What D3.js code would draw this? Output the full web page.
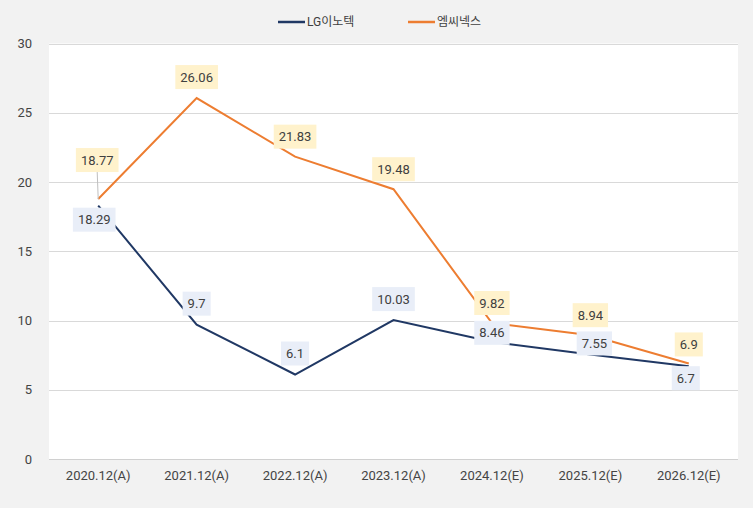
<!DOCTYPE html>
<html><head><meta charset="utf-8">
<script src="https://cdn.jsdelivr.net/npm/d3@7"></script>
<style>
body{margin:0;background:#f2f2f2;}
svg{display:block;font-family:Roboto,"Noto Sans CJK KR",sans-serif;}
</style></head><body>
<svg id="c" width="753" height="508"></svg>
<script>
const categories = ["2020.12(A)","2021.12(A)","2022.12(A)","2023.12(A)","2024.12(E)","2025.12(E)","2026.12(E)"];
const seriesNames = ["LG이노텍","엠씨넥스"];
const lgInnotek = [18.29, 9.7, 6.1, 10.03, 8.46, 7.55, 6.7];
const mcnex = [18.77, 26.06, 21.83, 19.48, 9.82, 8.94, 6.9];
const yTicks = [0,5,10,15,20,25,30];
// label offsets (styling)
const lgLabelOffset = [[-4,14],[0,-21],[0,-21],[0,-21],[0,-9],[4,-11],[-3,12]];
const mcLabelOffset = [[-1,-39],[0,-21],[0,-20],[0,-20],[0,-20],[0,-20],[0,-19]];

const svg = d3.select("#c");
const L=49, R=738, T=43.5, B=459;
svg.append("rect").attr("x",L).attr("y",T).attr("width",R-L).attr("height",B-T).attr("fill","#fff");
const x = d3.scaleBand().domain(categories).range([L,R]);
const y = d3.scaleLinear().domain([0,30]).range([B,T]);

svg.append("g").selectAll("line").data(yTicks.filter(d=>d>0)).join("line")
  .attr("x1",L).attr("x2",R).attr("y1",d=>Math.round(y(d))+0.5).attr("y2",d=>Math.round(y(d))+0.5)
  .attr("stroke","#d9d9d9").attr("stroke-width",1);
svg.append("line").attr("x1",L).attr("x2",R).attr("y1",B+0.5).attr("y2",B+0.5).attr("stroke","#d0d0d0");

const ya = svg.append("g").attr("transform",`translate(${L},0)`)
  .call(d3.axisLeft(y).tickValues(yTicks).tickSize(0).tickPadding(17));
ya.select(".domain").remove();
ya.selectAll("text").attr("fill","#444").attr("font-size",13).attr("font-family","Roboto, sans-serif");

const xa = svg.append("g").attr("transform",`translate(0,${B})`)
  .call(d3.axisBottom(x).tickSize(0).tickPadding(12));
xa.select(".domain").remove();
xa.selectAll("text").attr("fill","#444").attr("font-size",13).attr("font-family","Roboto, sans-serif");

const cx = d => x(d)+x.bandwidth()/2;
const line = d3.line().x((d,i)=>cx(categories[i])).y(d=>y(d));
svg.append("path").datum(mcnex).attr("d",line).attr("fill","none").attr("stroke","#ed7d31").attr("stroke-width",2);
svg.append("path").datum(lgInnotek).attr("d",line).attr("fill","none").attr("stroke","#203864").attr("stroke-width",2);

function labels(data, offs, bg){
  const g = svg.append("g");
  data.forEach((v,i)=>{
    const px=cx(categories[i]), py=y(v);
    const lx=px+offs[i][0], ly=py+offs[i][1];
    if(Math.abs(offs[i][1])>30){
      g.append("line").attr("x1",lx).attr("y1",ly+12).attr("x2",px).attr("y2",py).attr("stroke","#bfbfbf").attr("stroke-width",1);
    }
    const r = g.append("rect").attr("fill",bg);
    const t = g.append("text").attr("x",lx).attr("y",ly).attr("text-anchor","middle").attr("dy","0.35em")
      .attr("font-size",13).attr("fill","#404040").text(v);
    const w = t.node().getComputedTextLength()+10;
    r.attr("x",lx-w/2).attr("y",ly-12).attr("width",w).attr("height",24);
  });
}
labels(mcnex, mcLabelOffset, "#fff2cc");
labels(lgInnotek, lgLabelOffset, "#e9eef8");

const leg = [{n:seriesNames[0],c:"#203864",x:278},{n:seriesNames[1],c:"#ed7d31",x:408}];
leg.forEach(d=>{
  svg.append("line").attr("x1",d.x).attr("x2",d.x+27).attr("y1",22).attr("y2",22).attr("stroke",d.c).attr("stroke-width",2.5);
  svg.append("text").attr("x",d.x+29).attr("y",22).attr("dy","0.35em").attr("font-size",12).attr("fill","#404040").text(d.n);
});
</script>
</body></html>
